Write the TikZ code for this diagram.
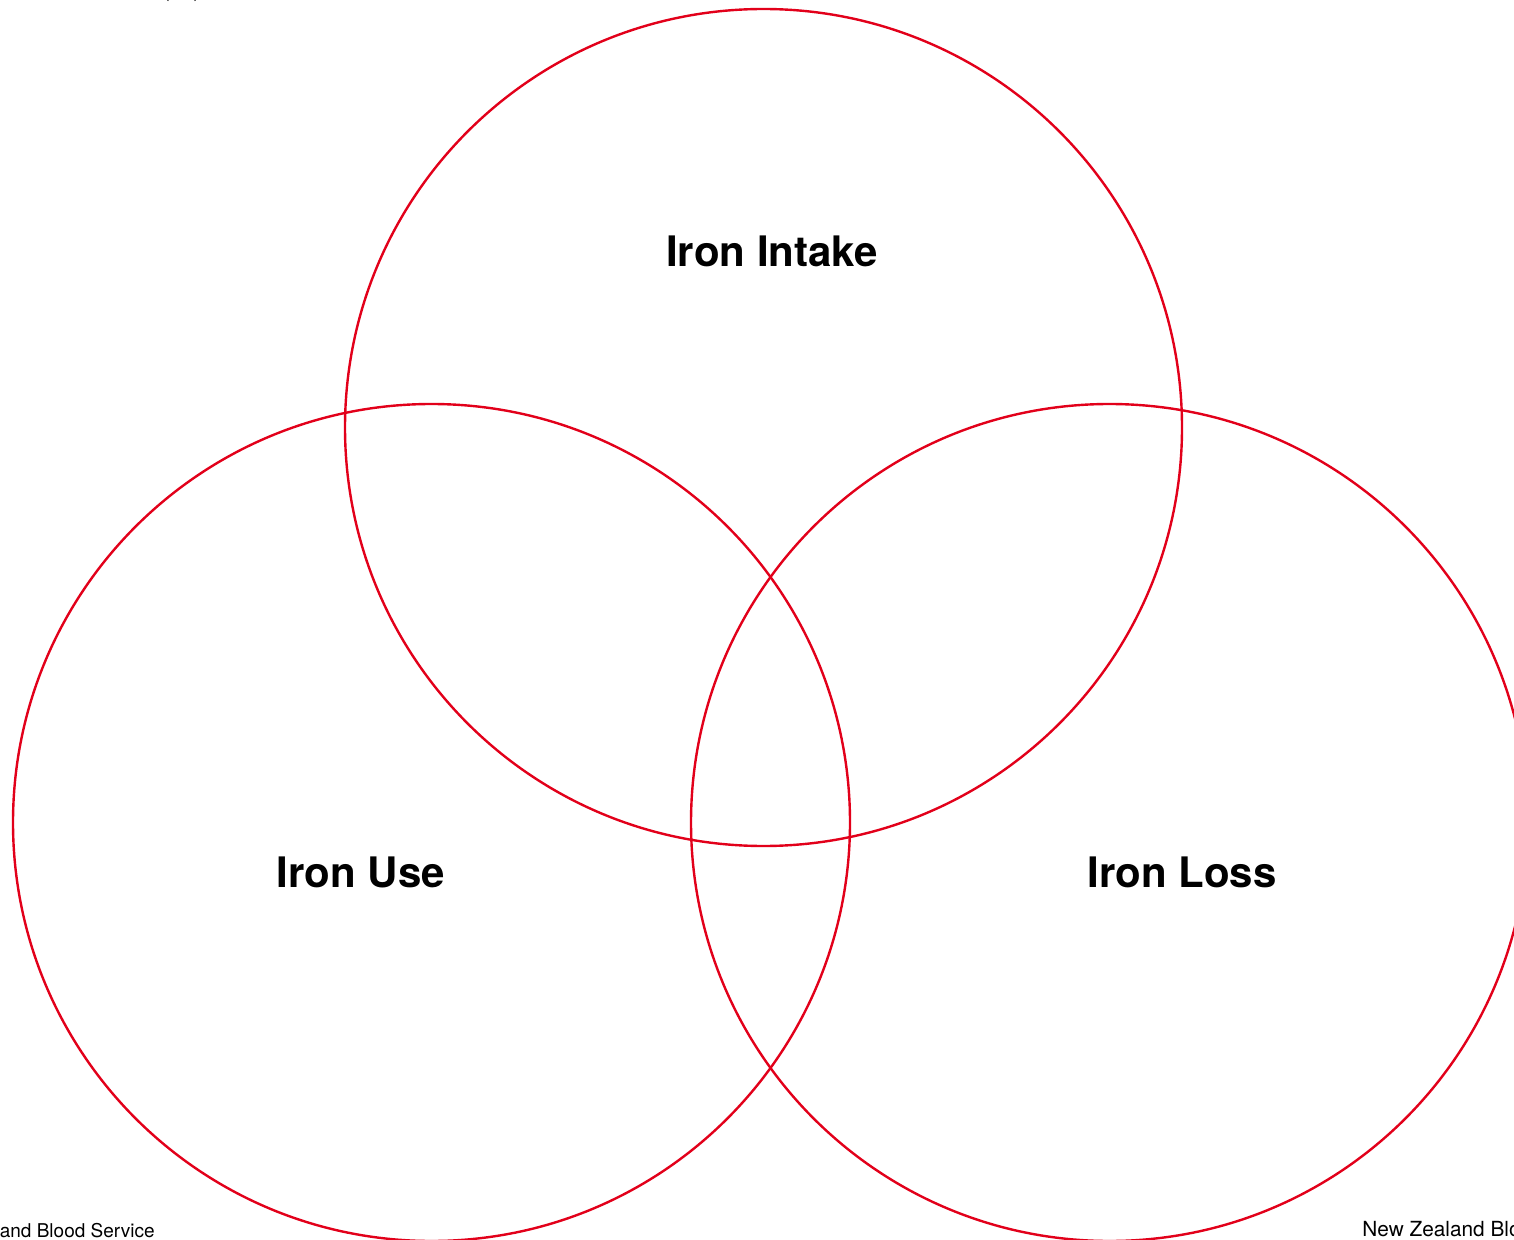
\documentclass[tikz,border=0pt]{standalone}
\usepackage{fontspec}
\setmainfont{TeX Gyre Heros}
\usepackage{xcolor}
\usepackage{tikz}
\usetikzlibrary{positioning}

\definecolor{bloodred}{RGB}{226,0,26}

\begin{document}
\begin{tikzpicture}[x=0.5pt, y=0.5pt,
  ring/.style={draw=bloodred, line width=1.2pt},
  setlabel/.style={font=\fontsize{21}{25}\selectfont\bfseries, anchor=base},
  footer/.style={font=\fontsize{9.5}{11}\selectfont, anchor=base}]
% frame: 1514 x 1239 px, one unit = one px
\useasboundingbox (0,0) rectangle (1514,1239);

% Circle centres (r = 418.5 px)
\coordinate (cIntake) at (763.5,811.5);
\coordinate (cUse) at (431.5,416.5);
\coordinate (cLoss) at (1109.5,416.5);

% Venn rings
\draw[ring] (cIntake) circle[radius=209.25pt];
\draw[ring] (cUse) circle[radius=209.25pt];
\draw[ring] (cLoss) circle[radius=209.25pt];

% Set labels
\node[setlabel] (intake) at (772,972) {Iron Intake};
\node[setlabel] (use) at (361,352) {Iron Use};
\node[setlabel] (loss) at (1182,352) {Iron Loss};

% Cut-off page text
\node[footer, anchor=base east, inner sep=0pt] (footL) at (155,1.5) {New Zealand Blood Service};
\node[footer, font=\fontsize{10.4}{12}\selectfont, anchor=base west, inner sep=0pt] (footR) at (1362,2.5) {New Zealand Blood Service};
\node[footer, anchor=base west, inner sep=0pt] (topmark) at (163,1241) {(\hspace{12pt})};
\end{tikzpicture}
\end{document}
